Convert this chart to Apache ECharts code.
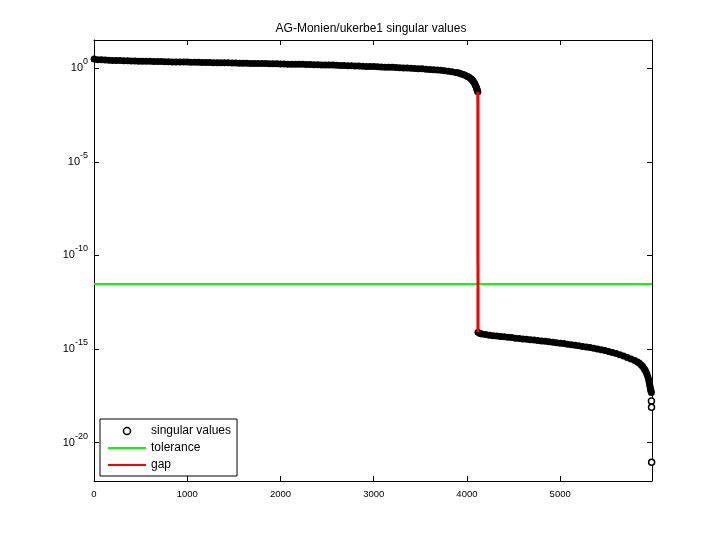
<!DOCTYPE html>
<html><head><meta charset="utf-8">
<script src="https://cdn.jsdelivr.net/npm/echarts@6/dist/echarts.min.js"></script>
<style>html,body{margin:0;padding:0;background:#fff}#c{width:720px;height:540px}</style>
</head><body><div id="c"></div>
<script>
const chartTitle = 'AG-Monien/ukerbe1 singular values';
const seriesNames = ['singular values', 'tolerance', 'gap'];
const xTickValues = [0, 1000, 2000, 3000, 4000, 5000];
const yTickExponents = [-20, -15, -10, -5, 0];
const xMax = 5985;
const yLog10Range = [-22.05, 1.51];

// singular values above the gap (index, log10 of value)
const upperIndex = [
  1,40,80,120,160,200,240,280,320,360,
  400,440,480,520,560,600,640,680,720,760,
  800,840,880,920,960,1000,1040,1080,1120,1160,
  1200,1240,1280,1320,1360,1400,1440,1480,1520,1560,
  1600,1640,1680,1720,1760,1800,1840,1880,1920,1960,
  2000,2040,2080,2120,2160,2200,2240,2280,2320,2360,
  2400,2440,2480,2520,2560,2600,2640,2680,2720,2760,
  2800,2840,2880,2920,2960,3000,3040,3080,3120,3160,
  3200,3240,3280,3320,3360,3400,3440,3480,3520,3560,
  3600,3640,3680,3720,3760,3800,3840,3880,3900,3920,
  3940,3960,3980,4000,4015,4030,4045,4055,4065,4075,
  4083,4090,4096,4101,4106,4110,4113,4117
];
const upperLog10 = [
  0.50,0.46,0.45,0.44,0.43,0.42,0.42,0.41,0.40,0.40,
  0.39,0.39,0.38,0.38,0.37,0.37,0.36,0.36,0.36,0.35,
  0.35,0.34,0.34,0.34,0.33,0.33,0.32,0.32,0.32,0.31,
  0.31,0.31,0.30,0.30,0.30,0.29,0.29,0.28,0.28,0.27,
  0.27,0.27,0.26,0.26,0.26,0.25,0.25,0.24,0.24,0.24,
  0.23,0.23,0.22,0.22,0.22,0.21,0.21,0.20,0.20,0.19,
  0.19,0.18,0.18,0.17,0.17,0.16,0.15,0.15,0.14,0.13,
  0.12,0.12,0.11,0.10,0.09,0.09,0.08,0.07,0.06,0.06,
  0.05,0.04,0.03,0.02,0.01,0.00,-0.01,-0.02,-0.03,-0.05,
  -0.06,-0.08,-0.09,-0.11,-0.13,-0.16,-0.19,-0.22,-0.24,-0.27,
  -0.30,-0.33,-0.37,-0.42,-0.46,-0.51,-0.57,-0.62,-0.68,-0.75,
  -0.82,-0.89,-0.96,-1.03,-1.10,-1.16,-1.21,-1.25
];

// singular values below the gap
const lowerIndex = [
  4118,4140,4160,4200,4240,4280,4320,4360,4400,4440,
  4480,4520,4560,4600,4640,4680,4720,4760,4800,4840,
  4880,4920,4960,5000,5040,5080,5120,5160,5200,5240,
  5280,5320,5360,5400,5440,5480,5520,5560,5600,5640,
  5680,5720,5760,5800,5830,5850,5870,5885,5900,5910,
  5920,5930,5940,5948,5955,5961,5966,5970,5974,5978
];
const lowerLog10 = [
  -14.10,-14.17,-14.19,-14.22,-14.26,-14.29,-14.31,-14.33,-14.35,-14.37,
  -14.39,-14.42,-14.44,-14.46,-14.48,-14.50,-14.52,-14.55,-14.57,-14.59,
  -14.61,-14.64,-14.66,-14.69,-14.71,-14.74,-14.77,-14.80,-14.83,-14.86,
  -14.89,-14.92,-14.96,-15.00,-15.04,-15.08,-15.13,-15.18,-15.24,-15.30,
  -15.37,-15.45,-15.53,-15.61,-15.69,-15.76,-15.85,-15.93,-16.04,-16.12,
  -16.22,-16.34,-16.48,-16.62,-16.78,-16.93,-17.06,-17.16,-17.24,-17.32
];

// isolated smallest singular values
const tailIndex = [5979, 5980, 5981];
const tailLog10 = [-17.77, -18.11, -21.05];

const toleranceLog10 = -11.52;
const toleranceIndex = [0, xMax];
const gapIndex = [4117, 4118];
const gapLog10 = [-1.25, -14.10];

const pow10 = e => Math.pow(10, e);
const svData = []
  .concat(upperIndex.map((x, i) => [x, pow10(upperLog10[i])]))
  .concat(lowerIndex.map((x, i) => [x, pow10(lowerLog10[i])]))
  .concat(tailIndex.map((x, i) => ({
    value: [x, pow10(tailLog10[i])],
    symbolSize: 6,
    itemStyle: { color: '#fff', borderColor: '#000', borderWidth: 1.5 }
  })));
const tolData = toleranceIndex.map(x => [x, pow10(toleranceLog10)]);
const gapData = gapIndex.map((x, i) => [x, pow10(gapLog10[i])]);

const FONT = 'Liberation Sans';
const TICK_LEN = 5;
const chart = echarts.init(document.getElementById('c'), null, { renderer: 'canvas' });

const yLabelRich = {
  b: { fontSize: 11, lineHeight: 22, verticalAlign: 'middle', color: '#000', fontFamily: FONT },
  s: { fontSize: 9, lineHeight: 9, verticalAlign: 'top', color: '#000', fontFamily: FONT }
};
const yTickVals = yTickExponents.map(pow10);

function yAxisDef(pos, showLabel) {
  return {
    type: 'log', logBase: 10, position: pos,
    min: pow10(yLog10Range[0]), max: pow10(yLog10Range[1]),
    axisLine: { show: true, onZero: false, lineStyle: { color: '#000', width: 1 } },
    axisTick: { show: true, inside: true, length: TICK_LEN, customValues: yTickVals, lineStyle: { color: '#000' } },
    minorTick: { show: false },
    splitLine: { show: false },
    axisLabel: {
      show: showLabel, customValues: yTickVals, margin: 6,
      formatter: v => '{b|10}{s|' + Math.round(Math.log10(v)) + '}',
      rich: yLabelRich
    }
  };
}
function xAxisDef(pos, showLabel) {
  return {
    type: 'value', position: pos, min: 0, max: xMax,
    axisLine: { show: true, onZero: false, lineStyle: { color: '#000', width: 1 } },
    axisTick: { show: true, inside: true, length: TICK_LEN, customValues: xTickValues, lineStyle: { color: '#000' } },
    splitLine: { show: false },
    axisLabel: {
      show: showLabel, customValues: xTickValues, margin: 8, fontSize: 9.5, color: '#000', fontFamily: FONT,
      formatter: v => String(v)
    }
  };
}

chart.setOption({
  animation: false,
  backgroundColor: '#fff',
  title: {
    text: chartTitle, left: 371, top: 23, textAlign: 'center', padding: 0,
    textStyle: { fontSize: 12, fontWeight: 'normal', color: '#000', fontFamily: FONT }
  },
  grid: { left: 94, right: 68, top: 40, bottom: 59, containLabel: false },
  xAxis: [xAxisDef('bottom', true), xAxisDef('top', false)],
  yAxis: [yAxisDef('left', true), yAxisDef('right', false)],
  legend: {
    orient: 'vertical', left: 100, top: 419,
    padding: [6, 6, 5, 7], itemWidth: 38, itemHeight: 7, itemGap: 5,
    backgroundColor: '#fff', borderColor: '#000', borderWidth: 1, borderRadius: 0,
    textStyle: { fontSize: 12, color: '#000', fontFamily: FONT },
    lineStyle: { width: 2 },
    data: [
      { name: seriesNames[0], icon: 'circle', itemStyle: { color: '#fff', borderColor: '#000', borderWidth: 1.5 } },
      { name: seriesNames[1], itemStyle: { opacity: 0 } },
      { name: seriesNames[2], itemStyle: { opacity: 0 } }
    ]
  },
  series: [
    {
      name: seriesNames[0], type: 'scatter', xAxisIndex: 0, yAxisIndex: 0,
      symbol: 'circle', symbolSize: 7, clip: false,
      itemStyle: { color: '#000', opacity: 1 },
      emphasis: { disabled: true },
      data: svData, z: 2
    },
    {
      name: seriesNames[1], type: 'line', xAxisIndex: 0, yAxisIndex: 0,
      symbol: 'none', showSymbol: false,
      lineStyle: { color: '#00ff00', width: 2 }, itemStyle: { color: '#00ff00' },
      data: tolData, z: 3
    },
    {
      name: seriesNames[2], type: 'line', xAxisIndex: 0, yAxisIndex: 0,
      symbol: 'none', showSymbol: false,
      lineStyle: { color: '#ff0000', width: 3 }, itemStyle: { color: '#ff0000' },
      data: gapData, z: 4
    }
  ]
});
</script></body></html>
